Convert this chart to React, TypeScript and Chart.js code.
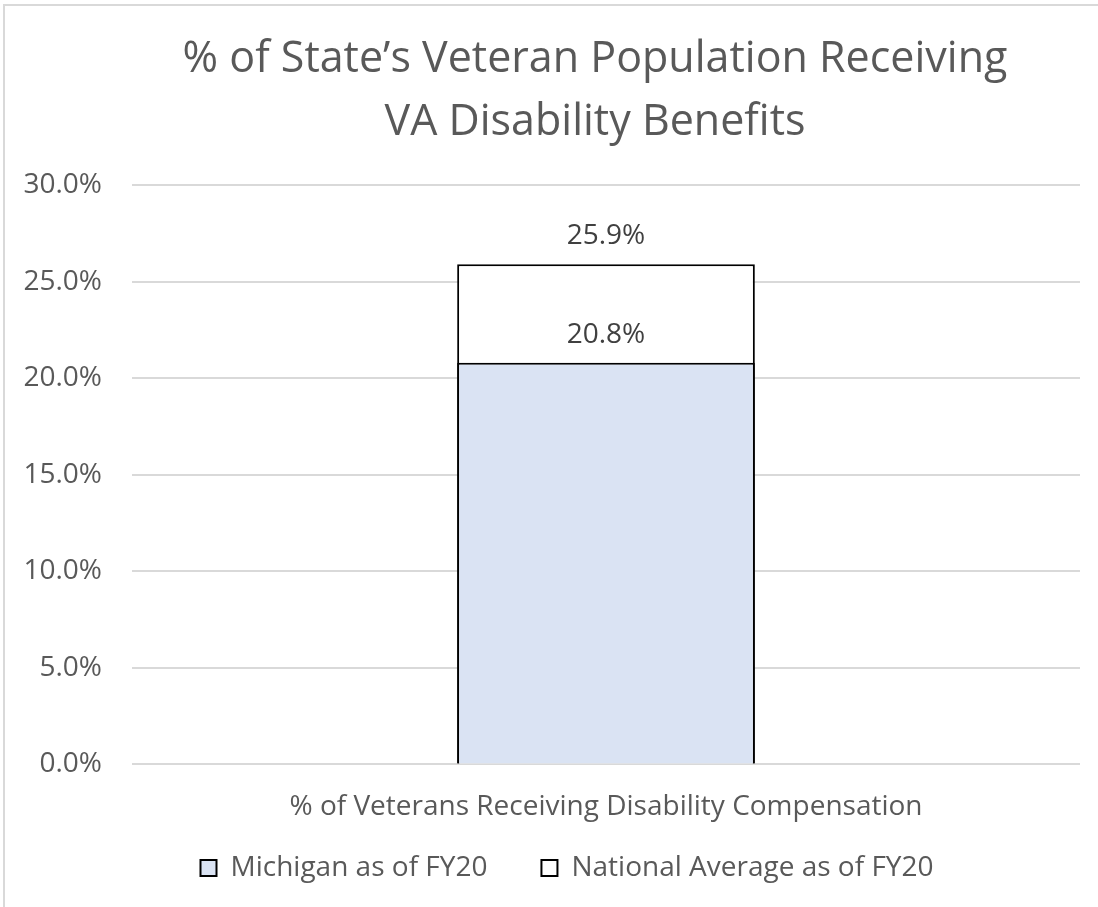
import { useEffect, useRef } from 'react';
import Chart from 'chart.js/auto';

const categories = ['% of Veterans Receiving Disability Compensation'];
const seriesNames = ['Michigan as of FY20', 'National Average as of FY20'];
const michiganValues = [20.8];
const nationalValues = [25.9];
const yTicks = [0, 5, 10, 15, 20, 25, 30];

const FONT = '"Open Sans", sans-serif';

// draws the value above each bar, like excel data labels
const barLabels = {
  id: 'barLabels',
  afterDatasetsDraw(chart: any) {
    const ctx = chart.ctx;
    ctx.save();
    ctx.font = `28px ${FONT}`;
    ctx.fillStyle = '#404040';
    ctx.textAlign = 'center';
    ctx.textBaseline = 'middle';
    chart.data.datasets.forEach((ds: any, i: number) => {
      const meta = chart.getDatasetMeta(i);
      meta.data.forEach((bar: any, j: number) => {
        ctx.fillText(ds.data[j].toFixed(1) + '%', bar.x, bar.y - 28);
      });
    });
    ctx.restore();
  },
};

// excel centres title and legend a bit off the canvas centre
const shiftBoxes = {
  id: 'shiftBoxes',
  afterLayout(chart: any) {
    if (chart.titleBlock) {
      chart.titleBlock.left += 50;
      chart.titleBlock.right += 50;
    }
    if (chart.legend) {
      chart.legend.left += 22;
      chart.legend.right += 22;
    }
  },
};

const App = () => {
  const chartRef = useRef<HTMLCanvasElement | null>(null);
  const chartInstanceRef = useRef<Chart | null>(null);

  useEffect(() => {
    const ctx = chartRef.current?.getContext('2d');
    if (!ctx) return;

    if (chartInstanceRef.current) {
      chartInstanceRef.current.destroy();
    }

    chartInstanceRef.current = new Chart(ctx, {
      type: 'bar',
      data: {
        labels: categories,
        datasets: [
          {
            label: seriesNames[0],
            data: michiganValues,
            backgroundColor: '#dae3f3',
            borderColor: '#000000',
            borderWidth: 2,
            categoryPercentage: 1,
            barPercentage: 0.314,
          },
          {
            label: seriesNames[1],
            data: nationalValues,
            backgroundColor: '#ffffff',
            borderColor: '#000000',
            borderWidth: 2,
            categoryPercentage: 1,
            barPercentage: 0.314,
          },
        ],
      },
      options: {
        responsive: true,
        maintainAspectRatio: false,
        animation: false,
        layout: {
          padding: { left: 10, right: 18, top: 0, bottom: 15 },
        },
        plugins: {
          title: {
            display: true,
            text: ['% of State’s Veteran Population Receiving', 'VA Disability Benefits'],
            color: '#595959',
            font: { family: FONT, size: 43, weight: 'normal', lineHeight: 1.465 },
            padding: { top: 28, bottom: 31 },
          },
          legend: {
            display: true,
            position: 'bottom',
            labels: {
              color: '#595959',
              font: { family: FONT, size: 28 },
              boxWidth: 16,
              boxHeight: 16,
              padding: 54,
            },
          },
          tooltip: { enabled: false },
        },
        scales: {
          x: {
            stacked: true,
            grid: { display: false },
            border: { display: false },
            ticks: { display: false },
            // category name shown as the axis title so it isn't clipped by the tick area
            title: {
              display: true,
              text: categories[0],
              color: '#595959',
              font: { family: FONT, size: 28 },
              padding: { top: 18, bottom: -24 },
            },
          },
          y: {
            stacked: false,
            min: 0,
            max: 30,
            afterFit: (scale: any) => {
              scale.width = 122;
            },
            afterBuildTicks: (scale: any) => {
              scale.ticks = yTicks.map((v) => ({ value: v }));
            },
            ticks: {
              color: '#595959',
              font: { family: FONT, size: 28 },
              padding: 30,
              callback: (v: any) => Number(v).toFixed(1) + '%',
            },
            grid: { color: '#d9d9d9', lineWidth: 2, drawTicks: false },
            border: { display: false },
          },
        },
      },
      plugins: [barLabels, shiftBoxes],
    });

    return () => {
      if (chartInstanceRef.current) {
        chartInstanceRef.current.destroy();
      }
    };
  }, []);

  return (
    <div style={{ position: 'absolute', left: 0, top: 0, width: 1098, height: 907, background: '#fff' }}>
      <div
        style={{
          position: 'absolute',
          left: 3,
          top: 4,
          right: 0,
          bottom: 0,
          borderTop: '2px solid #d9d9d9',
          borderLeft: '2px solid #d9d9d9',
        }}
      />
      <div style={{ position: 'absolute', left: 0, top: 0, width: 1098, height: 907 }}>
        <canvas ref={chartRef}></canvas>
      </div>
    </div>
  );
};

export default App;
